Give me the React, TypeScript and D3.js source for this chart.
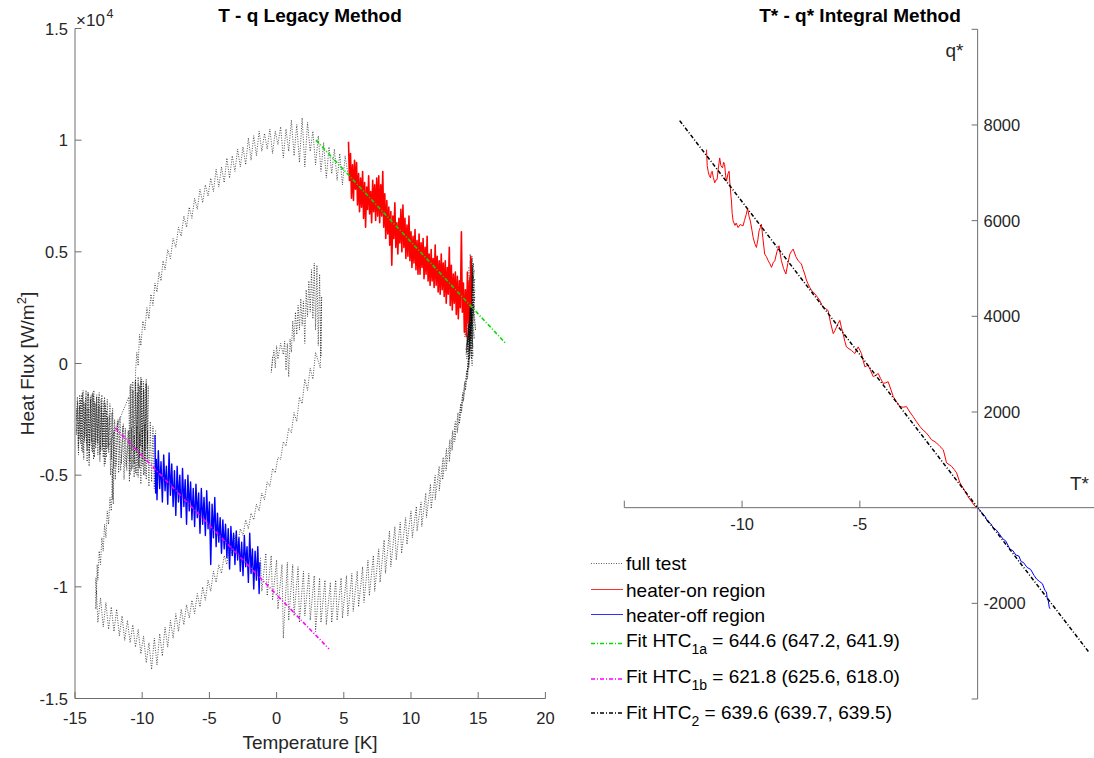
import React from "react";
import * as d3 from "d3";

type P = [number, number];

// ---------- ticks ----------
const leftXTicks = [-15, -10, -5, 0, 5, 10, 15, 20];
const leftYTicks = [-15000, -10000, -5000, 0, 5000, 10000, 15000];
const leftYTickLabels = ["-1.5", "-1", "-0.5", "0", "0.5", "1", "1.5"];
const rightXTicks = [-15, -10, -5, 0, 5];
const rightXLabelled = [-10, -5];
const rightYTicks = [-4000, -2000, 0, 2000, 4000, 6000, 8000, 10000];
const rightYLabelled = [-2000, 2000, 4000, 6000, 8000];

// ---------- fits (endpoints in data units) ----------
const fitHTC1a: P[] = [[2.93, 10000], [17.0, 930]];
const fitHTC1b: P[] = [[-12.0, -2890], [3.9, -12780]];
const fitHTC2: P[] = [[-12.65, 8091], [4.73, -3025]];

// ---------- full test (T [K], q [W/m2]) ----------
const fullTestInner: P[] = [
  [-0.3, 300], [-0.4, -400], [-0.2, 600], [-0.1, -200], [0.0, 800], [0.1, 200], [0.3, 900], [0.5, 400], [0.6, 1000], [0.7, -300],
  [0.8, 900], [0.9, -600], [1.0, 1100], [1.1, 500], [1.2, 1900], [1.3, 1000], [1.4, 2300], [1.5, 1300], [1.6, 2600], [1.7, 1500],
  [1.8, 2900], [1.9, 1700], [2.0, 2800], [2.1, 900], [2.2, 3300], [2.3, 2100], [2.4, 3700], [2.5, 2300], [2.6, 4200], [2.7, 2000],
  [2.8, 4500], [2.9, 1500], [3.0, 4400], [3.1, 800], [3.2, 4000], [3.3, 300], [3.35, 3000], [3.25, -200], [2.9, 500], [2.7, -700],
  [2.5, -200], [2.3, -1200], [2.1, -700], [1.9, -1800], [1.7, -1500], [1.5, -2600], [1.3, -2200], [1.1, -3100], [0.9, -2900], [0.7, -3700],
  [0.5, -3500], [0.3, -4300], [0.1, -4200], [-0.1, -4900], [-0.3, -4700], [-0.5, -5500], [-0.7, -5300], [-0.9, -6100], [-1.1, -5800], [-1.3, -6600],
  [-1.5, -6300], [-1.7, -7000], [-1.9, -6700], [-2.1, -7400], [-2.3, -7000], [-2.5, -7700], [-2.7, -7400], [-2.9, -8100], [-3.1, -7700], [-3.3, -8600],
  [-3.5, -8100], [-3.7, -9000], [-3.9, -8600], [-4.1, -9400], [-4.3, -9000], [-4.5, -9800], [-4.7, -9300], [-4.9, -10200], [-5.1, -9700], [-5.3, -10600],
  [-5.5, -10000], [-5.7, -10900], [-5.9, -10300], [-6.1, -11200], [-6.3, -10600], [-6.5, -11400], [-6.7, -10800], [-6.9, -11700], [-7.1, -11000], [-7.3, -12000],
  [-7.5, -11200], [-7.7, -12300], [-7.9, -11500], [-8.1, -12700], [-8.3, -11800], [-8.5, -13100], [-8.7, -12100], [-8.9, -13500], [-9.1, -12300], [-9.3, -13700],
  [-9.5, -12500], [-9.7, -13400], [-9.9, -12200], [-10.1, -13000], [-10.3, -11900], [-10.5, -12700], [-10.7, -11700], [-10.9, -12500], [-11.1, -11500], [-11.3, -12400],
  [-11.5, -11300], [-11.7, -12200], [-11.9, -11000], [-12.1, -12000], [-12.3, -10900], [-12.5, -11900], [-12.7, -10700], [-12.9, -11800], [-13.1, -10500], [-13.3, -11600],
  [-13.4, -10200], [-13.45, -11000], [-13.45, -9600], [-13.4, -10300], [-13.35, -9000], [-13.3, -9700], [-13.2, -8400], [-13.1, -9000], [-13.0, -7800], [-12.9, -8400],
  [-12.8, -7200], [-12.7, -7800], [-12.6, -6600], [-12.5, -7200], [-12.4, -6000], [-12.3, -6600], [-12.2, -4700], [-12.15, -6300], [-12.1, -4400],
  [-12.2, -2000], [-12.3, -4300], [-12.4, -1800], [-12.5, -4000], [-12.6, -1600], [-12.7, -3800], [-12.8, -1500], [-12.9, -4200], [-13.0, -1400], [-13.1, -3900],
  [-13.2, -1300], [-13.3, -4100], [-13.4, -1500], [-13.5, -3600], [-13.6, -1200], [-13.7, -4000], [-13.8, -1400], [-13.9, -3700], [-14.0, -1300], [-14.1, -4400],
  [-14.2, -1500], [-14.3, -3500], [-14.4, -1200], [-14.5, -3900], [-14.6, -1600], [-14.7, -3400], [-14.8, -1700], [-14.9, -3200], [-14.85, -2000], [-14.75, -3800],
  [-14.65, -1400], [-14.55, -3300], [-14.45, -1300], [-14.35, -4300], [-14.25, -1800], [-14.15, -3600], [-14.05, -1300], [-13.95, -4600], [-13.85, -1600], [-13.75, -3900],
  [-13.65, -1400], [-13.55, -4200], [-13.45, -1800], [-13.35, -3500], [-13.25, -1500], [-13.15, -4400], [-13.05, -1900], [-12.95, -3700], [-12.85, -1700], [-12.75, -4500],
  [-12.65, -2100], [-12.55, -3800], [-12.45, -2300], [-12.35, -5000], [-12.25, -2200], [-12.15, -4700], [-12.05, -2500], [-11.95, -4600], [-11.85, -2600], [-11.75, -4900],
  [-11.65, -2400], [-11.55, -4500], [-11.45, -2800], [-11.35, -5200], [-11.25, -2900], [-11.15, -4800], [-11.05, -3000], [-10.95, -5300],
  [-10.9, -1000], [-10.8, -4800], [-10.7, -800], [-10.6, -4500], [-10.5, -700], [-10.4, -5000], [-10.3, -900], [-10.2, -4200], [-10.1, -600], [-10.0, -4600],
  [-9.9, -800], [-9.8, -3900], [-9.7, -700], [-9.6, -4300], [-9.55, -1000], [-9.6, -3600], [-9.7, -900], [-9.8, -4400], [-9.9, -1100], [-10.0, -3800],
  [-10.1, -800], [-10.2, -4700], [-10.3, -600], [-10.4, -3900], [-10.5, -400],
  [-10.4, 500], [-10.3, -100], [-10.2, 1300], [-10.1, 800], [-9.95, 1900], [-9.8, 1500], [-9.65, 2500], [-9.5, 2000], [-9.35, 3100], [-9.2, 2600],
  [-9.05, 3600], [-8.9, 3200], [-8.75, 4100], [-8.6, 3700], [-8.45, 4600], [-8.3, 4200], [-8.1, 5100], [-7.9, 4700], [-7.7, 5600], [-7.5, 5200],
  [-7.3, 6100], [-7.1, 5700], [-6.9, 6600], [-6.7, 6100], [-6.5, 7000], [-6.3, 6500], [-6.1, 7400], [-5.9, 6900], [-5.7, 7800], [-5.5, 7200],
  [-5.3, 8000], [-5.1, 7500], [-4.9, 8300], [-4.7, 7700], [-4.5, 8700], [-4.3, 7900], [-4.1, 8800], [-3.9, 8100], [-3.7, 9200], [-3.5, 8300],
  [-3.3, 9300], [-3.1, 8600], [-2.9, 9600], [-2.7, 8800], [-2.5, 9700], [-2.3, 8900], [-2.1, 10100], [-1.9, 9100], [-1.7, 10200], [-1.5, 9300],
  [-1.3, 10400], [-1.1, 9500], [-0.9, 10300], [-0.7, 9600], [-0.5, 10500], [-0.3, 9400], [-0.1, 10400], [0.1, 9800], [0.3, 10600], [0.5, 9200],
  [0.7, 10500], [0.9, 9500], [1.1, 10900], [1.3, 9300], [1.5, 10700], [1.7, 9000], [1.9, 11000], [2.1, 8800], [2.3, 10800], [2.5, 9500],
  [2.7, 10400], [2.9, 8900], [3.1, 10200], [3.3, 8600], [3.5, 9900], [3.7, 8300], [3.9, 9700], [4.1, 8500], [4.3, 9600], [4.5, 8200],
  [4.7, 9400], [4.9, 8000], [5.1, 9300], [5.3, 8500],
];

const fullTestRight: P[] = [
  [14.3, 4300], [14.5, 200], [14.4, 4600], [14.6, 700], [14.35, 3900], [14.8, 1500], [14.45, 4400], [14.55, -100], [14.25, 3700], [14.7, 1100],
  [14.4, 4900], [14.6, 300], [14.5, 3400], [14.3, 1300], [14.65, 4500], [14.15, 200], [14.75, 3300], [14.35, 600], [14.55, 4700], [14.05, 1600],
  [14.45, 2500], [14.5, 4700], [14.3, 500], [14.6, 4500], [14.2, 900], [14.7, 4200], [14.1, 400], [14.75, 3800], [14.0, 1200], [14.6, 4400],
  [14.3, 300], [14.7, 3500], [14.2, 800], [14.55, 4800], [14.1, 600], [14.65, 3900], [14.35, 200], [14.75, 3000], [14.25, 1000], [14.6, 4100],
  [14.15, 500], [14.7, 2600], [14.3, -200], [14.5, 2200], [14.2, -400], [14.4, 1500],
  [14.2, -700], [14.3, 300], [14.05, -1200], [14.15, -300], [13.9, -1700], [14.0, -800], [13.75, -2200], [13.85, -1300], [13.6, -2700], [13.7, -1800],
  [13.45, -3100], [13.5, -2200], [13.25, -3500], [13.3, -2600], [13.05, -3900], [13.1, -3000], [12.85, -4400], [12.9, -3400], [12.6, -4800], [12.65, -3800],
  [12.35, -5200], [12.4, -4200], [12.1, -5700], [12.1, -4600], [11.8, -6100], [11.8, -5000], [11.5, -6500], [11.45, -5400], [11.15, -6900], [11.1, -5800],
  [10.8, -7300], [10.75, -6200], [10.45, -7500], [10.4, -6400], [10.1, -7800], [10.0, -6600], [9.7, -8100], [9.6, -6900], [9.3, -8500], [9.2, -7100],
  [8.9, -8800], [8.8, -7300], [8.5, -9100], [8.4, -7500], [8.1, -9400], [8.0, -7900], [7.7, -9800], [7.6, -8300], [7.3, -10200], [7.2, -8600],
  [6.9, -10400], [6.8, -8800], [6.5, -10700], [6.4, -9100], [6.1, -10900], [6.0, -9300], [5.7, -11100], [5.6, -9400], [5.3, -11300], [5.2, -9500],
  [4.9, -11400], [4.8, -9600], [4.5, -11500], [4.4, -9700], [4.1, -11600], [4.0, -9800], [3.7, -11700], [3.6, -9700], [3.3, -11600], [3.2, -9600],
  [2.9, -12000], [2.8, -9500], [2.5, -11500], [2.4, -9400], [2.1, -11300], [2.0, -9300], [1.7, -11600], [1.6, -9100], [1.3, -11300], [1.2, -9000],
  [0.9, -11500], [0.8, -8900], [0.5, -12300], [0.4, -9000], [0.1, -11000], [0.0, -8800], [-0.3, -10600], [-0.4, -8600], [-0.7, -10400], [-0.8, -8500],
  [-1.1, -10200], [-1.2, -8700],
];

const fullTestLeft: P[] = [
  [-14.9, -2500], [-14.82, -1500], [-14.74, -4100], [-14.66, -1900], [-14.58, -3600], [-14.5, -1400], [-14.42, -4000], [-14.34, -1700], [-14.26, -3300], [-14.18, -1200],
  [-14.1, -3900], [-14.02, -2000], [-13.94, -4200], [-13.86, -1500], [-13.78, -3500], [-13.7, -1300], [-13.62, -4300], [-13.54, -1700], [-13.46, -3800], [-13.38, -1400],
  [-13.3, -3600], [-13.22, -1900], [-13.14, -4100], [-13.06, -1600], [-12.98, -3900], [-12.9, -2200], [-12.82, -4600], [-12.74, -1800], [-12.66, -4200], [-12.58, -2400],
  [-12.5, -3700], [-11.0, -1500], [-10.92, -4400], [-10.84, -900], [-10.76, -3900], [-10.68, -1200], [-10.6, -5100], [-10.52, -800], [-10.44, -4000], [-10.36, -1300],
  [-10.28, -4600], [-10.2, -1000], [-10.12, -3700], [-10.04, -700], [-9.96, -4300], [-9.88, -1200], [-9.8, -5000], [-9.72, -900], [-9.64, -3800],
];

const fullTestMid: P[] = [
  [-9.0, -3000], [-9.1, -5600], [-9.2, -2800], [-9.3, -5300], [-9.4, -2600], [-9.5, -5500], [-9.6, -3000], [-9.7, -5200], [-9.8, -2700], [-9.9, -5000],
  [-10.0, -2900], [-10.1, -5400], [-10.2, -3100], [-10.3, -5100], [-10.4, -2800], [-10.5, -4900], [-10.6, -3200], [-10.7, -4700], [-10.8, -2900], [-10.9, -5000],
  [-11.0, -3000], [-11.2, -4600], [-11.4, -2700], [-11.6, -4800], [-11.8, -2500], [-12.0, -5200], [-12.1, -3000], [-12.2, -6100], [-12.3, -3500],
];

// ---------- heater-on region (T, q) ----------
const heaterOn: P[] = [
  [5.35, 9930], [5.42, 8200], [5.5, 9400], [5.57, 7400], [5.65, 8900], [5.72, 7300], [5.8, 9100], [5.87, 7800], [5.95, 9000], [6.02, 7100],
  [6.1, 8500], [6.17, 6800], [6.25, 8300], [6.32, 7000], [6.4, 8600], [6.47, 6500], [6.55, 8100], [6.62, 6100], [6.7, 7900], [6.77, 6900],
  [6.85, 8400], [6.92, 6700], [7.0, 7700], [7.07, 6300], [7.15, 8200], [7.22, 6800], [7.3, 8000], [7.37, 6400], [7.45, 8300], [7.52, 6600],
  [7.6, 8400], [7.67, 6300], [7.75, 8000], [7.82, 6600], [7.9, 8600], [7.97, 6100], [8.05, 7600], [8.12, 5600], [8.2, 7300], [8.27, 5800],
  [8.35, 7000], [8.42, 5300], [8.5, 6800], [8.57, 4400], [8.65, 6600], [8.72, 5600], [8.8, 7200], [8.87, 5200], [8.95, 6300], [9.02, 4900],
  [9.1, 6500], [9.17, 5400], [9.25, 6900], [9.32, 5000], [9.4, 7100], [9.47, 5200], [9.55, 6500], [9.62, 4700], [9.7, 6200], [9.77, 4800],
  [9.85, 6600], [9.92, 4600], [10.0, 5900], [10.07, 4300], [10.15, 5700], [10.22, 4500], [10.3, 6000], [10.37, 4200], [10.45, 5500], [10.52, 4000],
  [10.6, 5800], [10.67, 4000], [10.75, 5400], [10.82, 4300], [10.9, 5600], [10.97, 3800], [11.05, 5200], [11.12, 4000], [11.2, 5700], [11.27, 3700],
  [11.35, 4900], [11.42, 3500], [11.5, 5100], [11.57, 3700], [11.65, 4700], [11.72, 3400], [11.8, 5300], [11.87, 3500], [11.95, 4800], [12.02, 3200],
  [12.1, 4600], [12.17, 3100], [12.25, 4900], [12.32, 3300], [12.4, 4500], [12.47, 3000], [12.55, 4600], [12.62, 2700], [12.7, 4300], [12.77, 3100],
  [12.85, 5200], [12.92, 2600], [13.0, 4400], [13.07, 2400], [13.15, 4000], [13.22, 2700], [13.3, 4100], [13.37, 2200], [13.45, 3900], [13.52, 2000],
  [13.6, 3700], [13.67, 2500], [13.75, 5900], [13.82, 2300], [13.9, 3600], [13.97, 1400], [14.05, 3300], [14.12, 1200], [14.2, 4100], [14.27, 1800],
  [14.35, 3700], [14.4, 2600], [14.45, 4800], [14.45, 2500],
];

// ---------- heater-off region (T, q) ----------
const heaterOff: P[] = [
  [-9.05, -3200], [-9.0, -5800], [-8.95, -4300], [-8.9, -6100], [-8.8, -3900], [-8.7, -5600], [-8.6, -4400], [-8.5, -6200], [-8.4, -4100], [-8.3, -5700],
  [-8.2, -4600], [-8.1, -6300], [-8.0, -4000], [-7.9, -5900], [-7.8, -4500], [-7.7, -6400], [-7.6, -4800], [-7.5, -6800], [-7.4, -4600], [-7.3, -6200],
  [-7.2, -5000], [-7.1, -6900], [-7.0, -4700], [-6.9, -6400], [-6.8, -5200], [-6.7, -7200], [-6.6, -5000], [-6.5, -6600], [-6.4, -5300], [-6.3, -7000],
  [-6.2, -5600], [-6.1, -7300], [-6.0, -5400], [-5.9, -6900], [-5.8, -5800], [-5.7, -7600], [-5.6, -5600], [-5.5, -7200], [-5.4, -6000], [-5.3, -7700],
  [-5.2, -5700], [-5.1, -7400], [-5.0, -6200], [-4.9, -9000], [-4.8, -6300], [-4.7, -7800], [-4.6, -6000], [-4.5, -8200], [-4.4, -6700], [-4.3, -8000],
  [-4.2, -6900], [-4.1, -8500], [-4.0, -7000], [-3.9, -8300], [-3.8, -7200], [-3.7, -8700], [-3.6, -7400], [-3.5, -9200], [-3.4, -7300], [-3.3, -8600],
  [-3.2, -7600], [-3.1, -9000], [-3.0, -7500], [-2.9, -8800], [-2.8, -7800], [-2.7, -9300], [-2.6, -8000], [-2.5, -9500], [-2.4, -7700], [-2.3, -9100],
  [-2.2, -8200], [-2.1, -9800], [-2.0, -7600], [-1.9, -9400], [-1.8, -8300], [-1.7, -10100], [-1.6, -8400], [-1.5, -9700], [-1.4, -8200], [-1.3, -10300],
  [-1.24, -8900],
];

// ---------- integral method (T*, q*) ----------
const heaterOnIntegral: P[] = [
  [-11.51, 7484], [-11.48, 7150], [-11.44, 7033], [-11.4, 6950], [-11.34, 6895], [-11.31, 7000], [-11.27, 7033], [-11.22, 6900], [-11.16, 6791], [-11.11, 6850],
  [-11.06, 6860], [-11.02, 7050], [-10.95, 7311], [-10.9, 7150], [-10.83, 7103], [-10.78, 7220], [-10.74, 7172], [-10.7, 6950], [-10.66, 6826], [-10.6, 6980],
  [-10.55, 7033], [-10.52, 6800], [-10.5, 6687], [-10.47, 6500], [-10.45, 6410], [-10.42, 6150], [-10.38, 5994], [-10.3, 5900], [-10.25, 5950], [-10.17, 5855],
  [-10.08, 5920], [-9.96, 5890], [-9.9, 6000], [-9.82, 6133], [-9.77, 6250], [-9.745, 6202], [-9.7, 6080], [-9.65, 5994], [-9.58, 5800], [-9.53, 5648],
  [-9.46, 5520], [-9.39, 5440], [-9.33, 5600], [-9.28, 5786], [-9.22, 5860], [-9.18, 5925], [-9.12, 5650], [-9.04, 5301], [-8.97, 5250], [-8.89, 5162],
  [-8.82, 5100], [-8.75, 5024], [-8.68, 5120], [-8.61, 5162], [-8.52, 5350], [-8.43, 5474], [-8.38, 5300], [-8.33, 5162], [-8.24, 5000], [-8.14, 4885],
  [-8.06, 5100], [-7.97, 5301], [-7.9, 5360], [-7.83, 5405], [-7.72, 5250], [-7.62, 5162], [-7.55, 5130], [-7.48, 5093], [-7.41, 4980], [-7.34, 4885],
  [-7.27, 4760], [-7.2, 4677], [-7.12, 4600], [-7.05, 4539], [-6.98, 4510], [-6.91, 4469], [-6.8, 4400], [-6.7, 4331], [-6.63, 4250], [-6.56, 4192],
  [-6.45, 4160], [-6.35, 4123], [-6.25, 3880], [-6.13, 3638], [-6.06, 3700], [-5.99, 3776], [-5.92, 3850], [-5.85, 3915], [-5.78, 3760], [-5.71, 3638],
  [-5.64, 3480], [-5.57, 3361], [-5.46, 3320], [-5.36, 3291], [-5.28, 3250], [-5.21, 3222], [-5.14, 3300], [-5.07, 3361], [-5.0, 3290], [-4.93, 3222],
  [-4.86, 3080], [-4.79, 2945], [-4.72, 2960], [-4.65, 2980], [-4.54, 2860], [-4.43, 2737], [-4.32, 2770], [-4.22, 2806], [-4.12, 2700], [-4.01, 2598],
  [-3.9, 2610], [-3.8, 2633], [-3.69, 2480], [-3.58, 2321], [-3.44, 2210], [-3.3, 2113], [-3.16, 2100], [-3.02, 2113], [-2.88, 2000], [-2.74, 1905],
  [-2.6, 1800], [-2.45, 1697], [-2.31, 1620], [-2.17, 1559], [-2.06, 1490], [-1.96, 1420], [-1.85, 1390], [-1.74, 1351], [-1.6, 1280], [-1.46, 1212],
  [-1.39, 1080], [-1.32, 935], [-1.21, 900], [-1.11, 866], [-1.0, 800], [-0.89, 727], [-0.82, 620], [-0.75, 519], [-0.64, 430], [-0.54, 346],
  [-0.44, 260], [-0.33, 173], [-0.22, 100], [-0.12, 34], [0, 0],
];

const heaterOffIntegral: P[] = [
  [0, 0], [0.15, -90], [0.3, -170], [0.42, -290], [0.55, -330], [0.66, -416], [0.8, -470], [0.93, -555], [1.05, -640], [1.2, -700],
  [1.37, -867], [1.5, -900], [1.62, -990], [1.75, -1010], [1.85, -1130], [1.94, -1143], [2.1, -1250], [2.25, -1290], [2.4, -1420], [2.5, -1491],
  [2.62, -1540], [2.75, -1590], [2.86, -1733], [2.92, -1760], [2.96, -1906], [3.0, -1950], [3.04, -2079], [3.07, -2114],
];

// ---------- legend ----------
const legendEntries = [
  { key: "full", main: "full test", sub: "", rest: "" },
  { key: "on", main: "heater-on region", sub: "", rest: "" },
  { key: "off", main: "heater-off region", sub: "", rest: "" },
  { key: "f1a", main: "Fit HTC", sub: "1a", rest: " = 644.6 (647.2, 641.9)" },
  { key: "f1b", main: "Fit HTC", sub: "1b", rest: " = 621.8 (625.6, 618.0)" },
  { key: "f2", main: "Fit HTC", sub: "2", rest: " = 639.6 (639.7, 639.5)" },
];

const W = 1094;
const H = 758;
const FONT = "'Liberation Sans', Arial, Helvetica, sans-serif";
const TXT = "#262626";
const AX = "#6e6e6e";
const DASHDOT = "4 2 1 2";
const DOT = "1 1.5";

export default function App() {
  const xL = d3.scaleLinear().domain([-15, 20]).range([75, 545.4]);
  const yL = d3.scaleLinear().domain([-15000, 15000]).range([698.5, 28.5]);
  const xR = d3.scaleLinear().domain([-15, 5]).range([624.3, 1095.4]);
  const yR = d3.scaleLinear().domain([-4000, 10000]).range([699, 29.3]);

  const lineL = d3.line<P>().x((d) => xL(d[0])).y((d) => yL(d[1]));
  const lineR = d3.line<P>().x((d) => xR(d[0])).y((d) => yR(d[1]));

  const legendRows = [563.5, 589.5, 614.5, 643.5, 679, 713];
  const legendText = [570, 596.5, 621.5, 647, 683, 718.5];

  const sample = (key: string, y: number) => {
    const x1 = 591, x2 = 623;
    if (key === "full") return <line x1={x1} x2={x2} y1={y} y2={y} stroke="#333" strokeWidth={0.8} strokeDasharray={DOT} />;
    if (key === "on") return <line x1={x1} x2={x2} y1={y} y2={y} stroke="#ff3030" strokeWidth={1} />;
    if (key === "off") return <line x1={x1} x2={x2} y1={y} y2={y} stroke="#3030ff" strokeWidth={1} />;
    const c = key === "f1a" ? "#00dd00" : key === "f1b" ? "#ff00ff" : "#000";
    return <line x1={x1} x2={x2} y1={y} y2={y} stroke={c} strokeWidth={1.5} strokeDasharray={DASHDOT} />;
  };

  const fullStyle = { fill: "none", stroke: "#000", strokeWidth: 0.75, strokeDasharray: DOT, strokeOpacity: 0.9 };

  return (
    <svg
      width={W}
      height={H}
      viewBox={`0 0 ${W} ${H}`}
      style={{ position: "absolute", left: 0, top: 0, background: "#fff", fontFamily: FONT }}
    >
      <rect x={0} y={0} width={W} height={H} fill="#fff" />

      {/* ================= LEFT PLOT ================= */}
      <g>
        <path d={lineL(fullTestInner) || ""} {...fullStyle} />
        <path d={lineL(fullTestRight) || ""} {...fullStyle} />
        <path d={lineL(fullTestLeft) || ""} {...fullStyle} />
        <path d={lineL(fullTestMid) || ""} {...fullStyle} />
        <path d={lineL(heaterOn) || ""} fill="none" stroke="#ff0000" strokeWidth={1.6} strokeLinejoin="round" />
        <path d={lineL(heaterOff) || ""} fill="none" stroke="#0000ff" strokeWidth={1.4} strokeLinejoin="round" />
        <path d={lineL(fitHTC1a) || ""} fill="none" stroke="#00dd00" strokeWidth={1.6} strokeDasharray={DASHDOT} />
        <path d={lineL(fitHTC1b) || ""} fill="none" stroke="#ff00ff" strokeWidth={1.6} strokeDasharray={DASHDOT} />

        {/* axes */}
        <line x1={75} x2={75} y1={yL(15000)} y2={yL(-15000)} stroke={AX} strokeWidth={1} />
        <line x1={75} x2={xL(20)} y1={yL(-15000)} y2={yL(-15000)} stroke={AX} strokeWidth={1} />
        {leftXTicks.map((t) => (
          <g key={"lx" + t}>
            <line x1={xL(t)} x2={xL(t)} y1={yL(-15000)} y2={yL(-15000) - 6.5} stroke={AX} strokeWidth={1} />
            <text x={xL(t)} y={724} textAnchor="middle" fontSize={16.5} fill={TXT}>{t}</text>
          </g>
        ))}
        {leftYTicks.map((t, i) => (
          <g key={"ly" + t}>
            <line x1={75} x2={81.5} y1={yL(t)} y2={yL(t)} stroke={AX} strokeWidth={1} />
            <text x={68} y={yL(t) + 6} textAnchor="end" fontSize={16.5} fill={TXT}>{leftYTickLabels[i]}</text>
          </g>
        ))}
        <text x={76} y={25.5} fontSize={17} fill={TXT}>×10</text>
        <text x={106.5} y={18} fontSize={12.5} fill={TXT}>4</text>

        <text x={310} y={22} textAnchor="middle" fontSize={19} fontWeight="bold" fill="#000">T - q Legacy Method</text>
        <text x={310} y={749} textAnchor="middle" fontSize={19} fill={TXT}>Temperature [K]</text>
        <text transform="translate(33.5,363.5) rotate(-90)" textAnchor="middle" fontSize={19} fill={TXT}>
          Heat Flux [W/m<tspan fontSize={13} dy={-8}>2</tspan><tspan dy={8}>]</tspan>
        </text>
      </g>

      {/* ================= RIGHT PLOT ================= */}
      <g>
        <path d={lineR(heaterOnIntegral) || ""} fill="none" stroke="#ff0000" strokeWidth={1} strokeLinejoin="round" />
        <path d={lineR(heaterOffIntegral) || ""} fill="none" stroke="#0000ff" strokeWidth={1} strokeLinejoin="round" />
        <path d={lineR(fitHTC2) || ""} fill="none" stroke="#000" strokeWidth={1.5} strokeDasharray={DASHDOT} />

        <line x1={xR(0)} x2={xR(0)} y1={yR(10000)} y2={yR(-4000)} stroke={AX} strokeWidth={1} />
        <line x1={xR(-15)} x2={xR(5)} y1={yR(0)} y2={yR(0)} stroke={AX} strokeWidth={1} />
        {rightXTicks.map((t) => (
          <line key={"rx" + t} x1={xR(t)} x2={xR(t)} y1={yR(0)} y2={yR(0) - 7} stroke={AX} strokeWidth={1} />
        ))}
        {rightXLabelled.map((t) => (
          <text key={"rxl" + t} x={xR(t)} y={530} textAnchor="middle" fontSize={16.5} fill={TXT}>{t}</text>
        ))}
        {rightYTicks.map((t) => (
          <line key={"ry" + t} x1={xR(0) - 6} x2={xR(0)} y1={yR(t)} y2={yR(t)} stroke={AX} strokeWidth={1} />
        ))}
        {rightYLabelled.map((t) => (
          <text key={"ryl" + t} x={983.5} y={yR(t) + 6} textAnchor="start" fontSize={16.5} fill={TXT}>{t}</text>
        ))}
        <text x={963.5} y={57} textAnchor="end" fontSize={19} fill={TXT}>q*</text>
        <text x={1070} y={490} textAnchor="start" fontSize={19} fill={TXT}>T*</text>
        <text x={860} y={22} textAnchor="middle" fontSize={19} fontWeight="bold" fill="#000">T* - q* Integral Method</text>
      </g>

      {/* ================= LEGEND ================= */}
      <g>
        {legendEntries.map((e, i) => (
          <g key={e.key}>
            {sample(e.key, legendRows[i])}
            <text x={626} y={legendText[i]} fontSize={19} fill="#000">
              {e.main}
              {e.sub ? <tspan fontSize={14} dy={7}>{e.sub}</tspan> : null}
              {e.sub ? <tspan dy={-7}>{e.rest}</tspan> : null}
            </text>
          </g>
        ))}
      </g>
    </svg>
  );
}
